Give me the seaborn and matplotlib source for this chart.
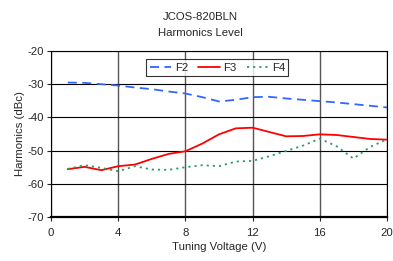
import matplotlib
matplotlib.use("Agg")
import matplotlib.pyplot as plt
import seaborn as sns
import pandas as pd

voltage = [1, 2, 3, 4, 5, 6, 7, 8, 9, 10, 11, 12, 13, 14, 15, 16, 17, 18, 19, 20]
f2 = [-29.5, -29.6, -30.0, -30.4, -31.0, -31.5, -32.2, -32.8, -33.9, -35.2, -34.7, -33.9, -33.8,
      -34.3, -34.7, -35.1, -35.5, -36.0, -36.5, -37.0]
f3 = [-55.6, -54.9, -55.9, -54.7, -54.2, -52.5, -51.0, -50.2, -47.9, -45.1, -43.3, -43.1, -44.4,
      -45.7, -45.6, -45.1, -45.3, -45.9, -46.5, -46.7]
f4 = [-55.5, -54.4, -55.2, -56.2, -54.7, -55.7, -55.8, -55.0, -54.4, -54.7, -53.3, -53.1, -51.7,
      -50.1, -48.5, -46.4, -48.7, -52.4, -48.9, -46.6]
series_names = ["F2", "F3", "F4"]
title_lines = ["JCOS-820BLN", "Harmonics Level"]
x_ticks = [0, 4, 8, 12, 16, 20]
y_ticks = [-70, -60, -50, -40, -30, -20]

sns.set_style("white")
plt.rcParams['font.family'] = ['Liberation Sans', 'DejaVu Sans']

FS = 8.2

fig = plt.figure(figsize=(3.93, 2.61), dpi=100)
ax = fig.add_axes([51/393, 1-217/261, (387-51)/393, (217-51)/261])

styles = {
    "F2": dict(color="#3366FF", dashes=(5, 3)),
    "F3": dict(color="#FF0000", dashes=""),
    "F4": dict(color="#339966", dashes=(1.2, 2.2)),
}
for name, vals in zip(series_names, [f2, f3, f4]):
    df = pd.DataFrame({"x": voltage, "y": vals})
    st = styles[name]
    sns.lineplot(data=df, x="x", y="y", ax=ax, color=st["color"], linewidth=1.3,
                 label=name, errorbar=None)
    line = ax.get_lines()[-1]
    if st["dashes"]:
        line.set_dashes(st["dashes"])

ax.set_xlim(0, 20)
ax.set_ylim(-70, -20)
ax.set_xticks(x_ticks)
ax.set_yticks(y_ticks)
ax.set_xticklabels([str(t) for t in x_ticks], fontsize=FS)
ax.set_yticklabels([str(t) for t in y_ticks], fontsize=FS)
ax.grid(True, axis="x", color="#555555", linewidth=1.0)
ax.grid(True, axis="y", color="#000000", linewidth=0.8)
ax.set_axisbelow(True)
for s in ax.spines.values():
    s.set_color("black")
    s.set_linewidth(0.8)
ax.spines["bottom"].set_linewidth(1.6)
ax.tick_params(axis="x", direction="out", length=3, width=0.8, pad=5, bottom=True)
ax.tick_params(axis="y", direction="out", length=3, width=0.8, pad=2, left=True)
ax.set_xlabel("Tuning Voltage (V)", fontsize=FS, labelpad=3)
ax.set_ylabel("Harmonics (dBc)", fontsize=FS, labelpad=2)

fig.text(0.51, 1-17/261, title_lines[0], ha="center", va="center", fontsize=FS)
fig.text(0.51, 1-33/261, title_lines[1], ha="center", va="center", fontsize=FS)

leg = ax.legend(loc="upper center", bbox_to_anchor=(0.495, 0.95), ncol=3, fontsize=FS,
                frameon=True, fancybox=False, edgecolor="black", handlelength=1.9,
                handletextpad=0.3, columnspacing=0.9, borderpad=0.3, borderaxespad=0)
leg.get_frame().set_linewidth(0.8)

fig.savefig("out.png", dpi=100, facecolor="white")
